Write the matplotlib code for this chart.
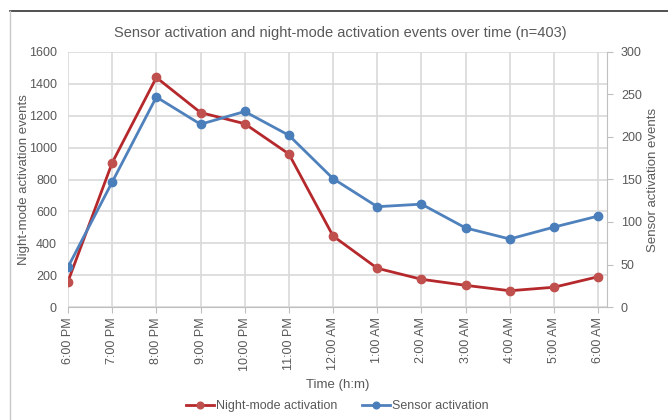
import matplotlib
matplotlib.use("Agg")
import matplotlib.pyplot as plt
from matplotlib.lines import Line2D

plt.rcParams['font.family'] = ['Liberation Sans', 'DejaVu Sans']

# hourly counts, 6 PM through 6 AM
times = ['6:00 PM', '7:00 PM', '8:00 PM', '9:00 PM', '10:00 PM', '11:00 PM',
         '12:00 AM', '1:00 AM', '2:00 AM', '3:00 AM', '4:00 AM', '5:00 AM', '6:00 AM']
night_mode = [160, 905, 1440, 1220, 1150, 960, 445, 243, 174, 136, 102, 124, 190]
sensor = [47, 147, 247, 215, 230, 202, 151, 118, 121, 93, 80, 94, 107]

txt = '#595959'
grid = '#d9d9d9'
red_line, red_mark = '#b5282b', '#c0504d'
blue_line, blue_mark = '#4f81bd', '#4a7ebb'

fig = plt.figure(figsize=(6.68, 4.2), dpi=100)
ax = fig.add_axes([68 / 668, 1 - 307 / 420, (607 - 68) / 668, (307 - 52) / 420])
ax2 = ax.twinx()

x = list(range(len(times)))
l1, = ax.plot(x, night_mode, color=red_line, lw=2, marker='o', ms=6,
              mfc=red_mark, mec=red_mark, label='Night-mode activation', zorder=3)
l2, = ax2.plot(x, sensor, color=blue_line, lw=2, marker='o', ms=6,
               mfc=blue_mark, mec=blue_mark, label='Sensor activation', zorder=3)

ax.set_xlim(0, len(times) - 1 + 0.2)
ax.set_ylim(0, 1600)
ax2.set_ylim(0, 300)
ax.set_yticks(range(0, 1601, 200))
ax2.set_yticks(range(0, 301, 50))
ax.set_xticks(x)
ax.set_xticklabels(times, rotation=90)

ax.grid(True, color=grid, lw=1.2)
ax.set_axisbelow(True)
for a in (ax, ax2):
    for s in a.spines.values():
        s.set_visible(False)
ax.spines['bottom'].set_visible(True)
ax.spines['bottom'].set_color('#bfbfbf')
ax2.spines['right'].set_visible(True)
ax2.spines['right'].set_color('#bfbfbf')

ax.tick_params(axis='x', colors='#bfbfbf', labelcolor=txt, labelsize=9, length=4, direction='out')
ax.tick_params(axis='y', length=0, labelcolor=txt, labelsize=9, pad=8)
ax2.tick_params(axis='y', colors='#bfbfbf', labelcolor=txt, labelsize=9, length=4, pad=6)

ax.set_ylabel('Night-mode activation events', color=txt, fontsize=9.5, labelpad=-1)
ax2.set_ylabel('Sensor activation events', color=txt, fontsize=9.5, labelpad=4)
ax.set_xlabel('Time (h:m)', color=txt, fontsize=9.5, labelpad=6)
fig.text(0.5 * (68 + 607) / 668 + 0.004, 1 - 33 / 420,
         'Sensor activation and night-mode activation events over time (n=403)',
         ha='center', va='center', color=txt, fontsize=10.5)

fig.legend(handles=[l1, l2], loc='center', bbox_to_anchor=(0.5 * (68 + 607) / 668, 1 - 406 / 420),
           ncol=2, frameon=False, fontsize=9, labelcolor=txt, handlelength=2.2,
           handletextpad=0.2, columnspacing=2.0, markerscale=0.8)

# outer frame
fig.add_artist(Line2D([10 / 668, 1], [1 - 11 / 420] * 2, color='#333333', lw=1.2))
fig.add_artist(Line2D([10 / 668] * 2, [0, 1 - 11 / 420], color='#c8c8c8', lw=1))

fig.savefig('out.png', dpi=100)
